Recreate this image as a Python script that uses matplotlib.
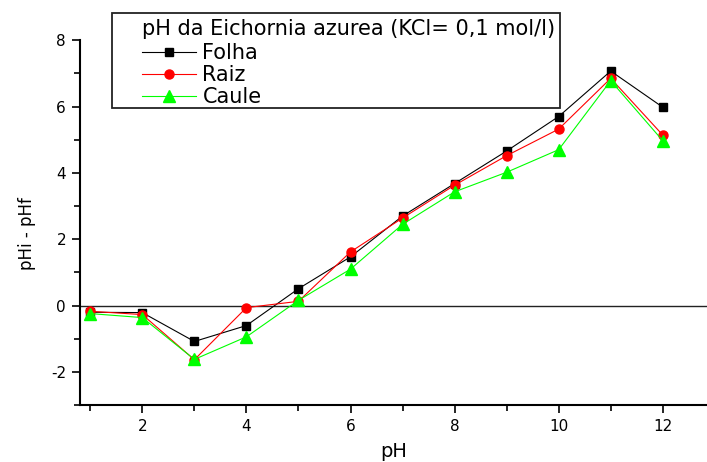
import numpy as np
import matplotlib
matplotlib.use("Agg")
from matplotlib import pyplot as plt
from matplotlib.ticker import MultipleLocator
from matplotlib.patches import Rectangle

plt.rcParams['font.family'] = ['DejaVu Sans']
plt.rcParams['axes.unicode_minus'] = False

ph = [1, 2, 3, 4, 5, 6, 7, 8, 9, 10, 11, 12]
folha = [-0.2, -0.21, -1.08, -0.6, 0.51, 1.47, 2.7, 3.68, 4.66, 5.7, 7.07, 5.98]
raiz = [-0.17, -0.27, -1.63, -0.06, 0.13, 1.62, 2.64, 3.63, 4.52, 5.32, 6.85, 5.14]
caule = [-0.24, -0.36, -1.62, -0.94, 0.16, 1.1, 2.45, 3.43, 4.02, 4.7, 6.78, 4.97]

legend_title = "pH da Eichornia azurea (KCl= 0,1 mol/l)"

W, H = 707, 462
fig = plt.figure(figsize=(W / 100, H / 100), dpi=100)
ax = fig.add_axes([0.113, 0.123, 0.887, 0.79])

ax.axhline(0, color='#222222', lw=1.0, zorder=1)
ax.plot(ph, folha, color='black', lw=0.8, marker='s', ms=5.5, label='Folha', zorder=3)
ax.plot(ph, raiz, color='red', lw=0.8, marker='o', ms=6.5, label='Raiz', zorder=4)
ax.plot(ph, caule, color='#00ff00', lw=0.8, marker='^', ms=8, label='Caule', zorder=5)

ax.set_xlim(0.8, 12.85)
ax.set_ylim(-3, 8)
ax.xaxis.set_major_locator(MultipleLocator(2))
ax.xaxis.set_minor_locator(MultipleLocator(1))
ax.yaxis.set_major_locator(MultipleLocator(2))
ax.yaxis.set_minor_locator(MultipleLocator(1))
ax.spines['top'].set_visible(False)
ax.spines['right'].set_visible(False)
ax.spines['left'].set_linewidth(1.5)
ax.spines['bottom'].set_linewidth(1.5)
ax.tick_params(which='major', length=6, width=1.2, labelsize=11, pad=4)
ax.tick_params(which='minor', length=4, width=1.2)

ax.set_xlabel('pH', fontsize=14, labelpad=6)
ax.set_ylabel('pHi - pHf', fontsize=12)
ax.yaxis.set_label_coords(-0.07, 0.47)

# legend without its own frame, box drawn separately (wider on the left)
leg = ax.legend(title=legend_title, loc='upper left',
                bbox_to_anchor=(142 / W, 1 - 19 / H), bbox_transform=fig.transFigure,
                fontsize=15, title_fontsize=15, frameon=False,
                handlelength=2.6, borderpad=0, borderaxespad=0,
                labelspacing=0.1, handletextpad=0.3)
leg._legend_box.align = 'left'
leg._legend_box.sep = 3
fig.add_artist(Rectangle((112 / W, 1 - 108 / H), (560 - 112) / W, (108 - 13) / H,
                         transform=fig.transFigure, fill=False,
                         edgecolor='#222222', lw=1.3, zorder=6))

fig.savefig('out.png', dpi=100)
